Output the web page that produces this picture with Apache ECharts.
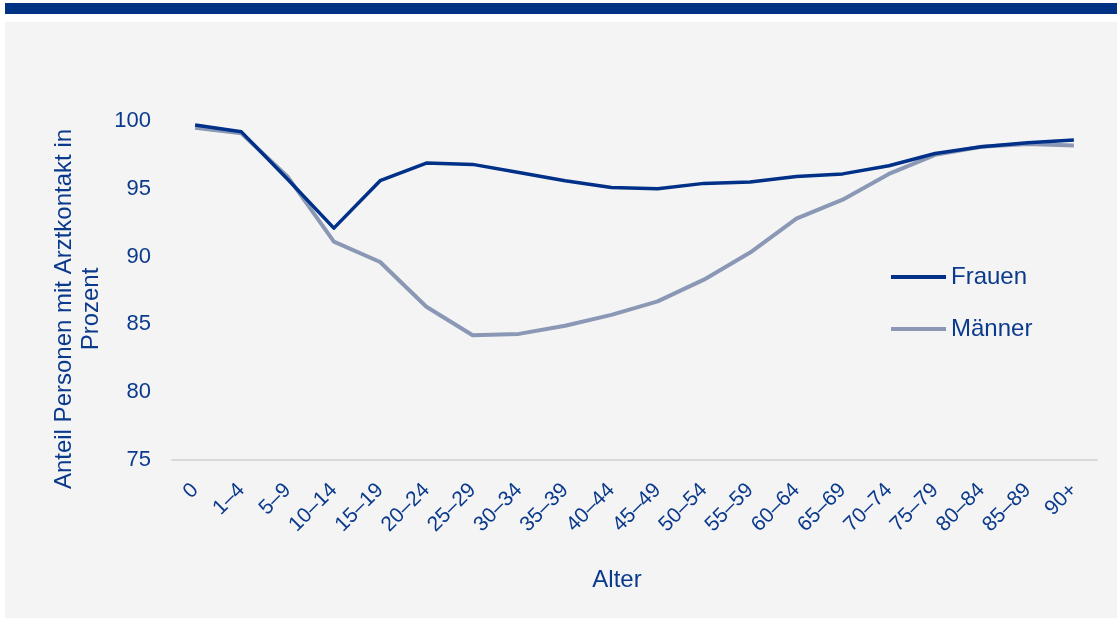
<!DOCTYPE html>
<html>
<head>
<meta charset="utf-8">
<script src="https://cdn.jsdelivr.net/npm/echarts@6/dist/echarts.min.js"></script>
<style>
  html, body { margin: 0; padding: 0; background: #ffffff; }
  #chart { width: 1117px; height: 619px; }
</style>
</head>
<body>
<div id="chart"></div>
<script>
// Age groups on the x axis
const ageGroups = ['0', '1–4', '5–9', '10–14', '15–19', '20–24', '25–29', '30–34', '35–39', '40–44',
  '45–49', '50–54', '55–59', '60–64', '65–69', '70–74', '75–79', '80–84', '85–89', '90+'];

// Share of persons with a doctor contact, in percent
const frauen = [99.7, 99.2, 95.7, 92.1, 95.6, 96.9, 96.8, 96.2, 95.6, 95.1,
  95.0, 95.4, 95.5, 95.9, 96.1, 96.7, 97.6, 98.1, 98.4, 98.6];
const maenner = [99.5, 99.1, 95.9, 91.1, 89.6, 86.3, 84.2, 84.3, 84.9, 85.7,
  86.7, 88.3, 90.3, 92.8, 94.2, 96.1, 97.5, 98.1, 98.3, 98.2];

// Value axis range
const yMin = 75, yMax = 100, yStep = 5;

const textColor = '#0b3a8c';
const fontFamily = '"Liberation Sans", Arial, sans-serif';

const chart = echarts.init(document.getElementById('chart'), null, { renderer: 'canvas' });

chart.setOption({
  backgroundColor: '#ffffff',
  animation: false,
  textStyle: { fontFamily: fontFamily },
  graphic: [
    { type: 'rect', z: -10, shape: { x: 5, y: 3, width: 1112, height: 11 }, style: { fill: '#003283' } },
    { type: 'rect', z: -10, shape: { x: 5, y: 22, width: 1112, height: 596 }, style: { fill: '#f4f4f4' } },
    {
      type: 'text', x: 78, y: 309, rotation: Math.PI / 2,
      style: {
        text: 'Anteil Personen mit Arztkontakt in\nProzent',
        fill: textColor, font: '24px ' + fontFamily,
        align: 'center', verticalAlign: 'middle', lineHeight: 27
      }
    },
    {
      type: 'text', x: 617, y: 580,
      style: {
        text: 'Alter', fill: textColor, font: '24px ' + fontFamily,
        align: 'center', verticalAlign: 'middle'
      }
    }
  ],
  legend: {
    orient: 'vertical',
    left: 886,
    top: 259,
    icon: 'rect',
    itemWidth: 55,
    itemHeight: 4,
    itemGap: 26,
    textStyle: { color: textColor, fontSize: 24, lineHeight: 26, fontFamily: fontFamily },
    data: ['Frauen', 'Männer']
  },
  grid: { left: 172, right: 20, top: 121, bottom: 159, containLabel: false },
  xAxis: {
    type: 'category',
    data: ageGroups,
    boundaryGap: true,
    axisLine: { show: true, lineStyle: { color: '#d9d9d9', width: 2 } },
    axisTick: { show: false },
    axisLabel: {
      rotate: 45, margin: 27, color: textColor, fontSize: 21, fontFamily: fontFamily, interval: 0
    },
    splitLine: { show: false }
  },
  yAxis: {
    type: 'value',
    min: yMin, max: yMax, interval: yStep,
    axisLine: { show: false },
    axisTick: { show: false },
    splitLine: { show: false },
    axisLabel: { color: textColor, fontSize: 22, fontFamily: fontFamily, margin: 21 }
  },
  series: [
    {
      name: 'Frauen', type: 'line', data: frauen,
      symbol: 'none', z: 3,
      lineStyle: { color: '#003087', width: 3.5, join: 'round' },
      itemStyle: { color: '#003087' }
    },
    {
      name: 'Männer', type: 'line', data: maenner,
      symbol: 'none', z: 2,
      lineStyle: { color: '#8a98b5', width: 4, join: 'round' },
      itemStyle: { color: '#8a98b5' }
    }
  ]
});
</script>
</body>
</html>
